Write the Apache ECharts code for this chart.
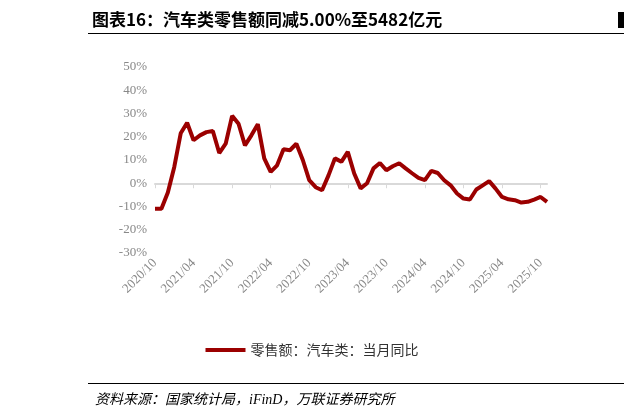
<!DOCTYPE html><html><head><meta charset="utf-8"><script src="https://cdn.jsdelivr.net/npm/echarts@6/dist/echarts.min.js"></script>
<style>body{margin:0;background:#fff}#t{position:absolute;left:92px;top:6px;font:bold 17px "Noto Sans CJK SC","Liberation Serif";color:#000}#l{position:absolute;left:88px;right:0;top:33px;height:1px;background:#000}#b{position:absolute;right:0;top:12px;width:6px;height:16px;background:#000}#s{position:absolute;left:95px;top:388px;font:italic 14px "Liberation Serif","Noto Sans CJK SC";color:#000}#sl{position:absolute;left:88px;right:0;top:383px;height:1px;background:#000}#c{width:624px;height:420px}</style></head><body>
<div id="c"></div><div id="t">图表16：汽车类零售额同减5.00%至5482亿元</div><div id="l"></div><div id="b"></div><div id="sl"></div><div id="s">资料来源：国家统计局，iFinD，万联证券研究所</div>
<script>
const seriesName='零售额：汽车类：当月同比';
const values=[-11,-11,-4,7,21.5,26,18.5,20.6,22,22.5,13,17,29,25.6,16.3,20.6,25.4,10.7,4.9,7.7,14.6,14.2,17,10,1.3,-1.7,-3,3.4,10.7,9.2,13.5,4.2,-2.2,0,6.4,8.7,5.6,7.3,8.6,6.4,4.3,2.3,1.3,5.3,4.4,1.3,-0.9,-4.4,-6.6,-7,-2.7,-0.9,0.9,-2.3,-5.9,-6.9,-7.3,-8.3,-8,-7,-5.9,-8];
const cats=[];for(let i=0;i<values.length;i++){const m=(9+i)%12+1,y=2020+Math.floor((9+i)/12);cats.push(y+'/'+(m<10?'0'+m:m));}
const ch=echarts.init(document.getElementById('c'));
ch.setOption({animation:false,
grid:{left:155,right:77,top:67,bottom:167,containLabel:false},
legend:{bottom:58,left:'center',itemWidth:40,itemHeight:4,textStyle:{fontFamily:'Noto Sans CJK SC',fontSize:14,color:'#333'},data:[{name:seriesName,icon:'rect'}]},
xAxis:{type:'category',data:cats,boundaryGap:false,axisLine:{onZero:true,lineStyle:{color:'#d9d9d9',width:2}},axisTick:{interval:5,length:5,lineStyle:{color:'#d9d9d9'}},axisLabel:{interval:5,rotate:45,color:'#888',fontFamily:'Liberation Serif',fontSize:13,margin:8}},
yAxis:{type:'value',min:-30,max:50,interval:10,splitLine:{show:false},axisLine:{show:false},axisTick:{show:false},axisLabel:{formatter:'{value}%',color:'#888',fontFamily:'Liberation Serif',fontSize:13}},
series:[{name:seriesName,type:'line',data:values,symbol:'none',lineStyle:{color:'#9b0000',width:4},itemStyle:{color:'#9b0000'}}]});
</script></body></html>
